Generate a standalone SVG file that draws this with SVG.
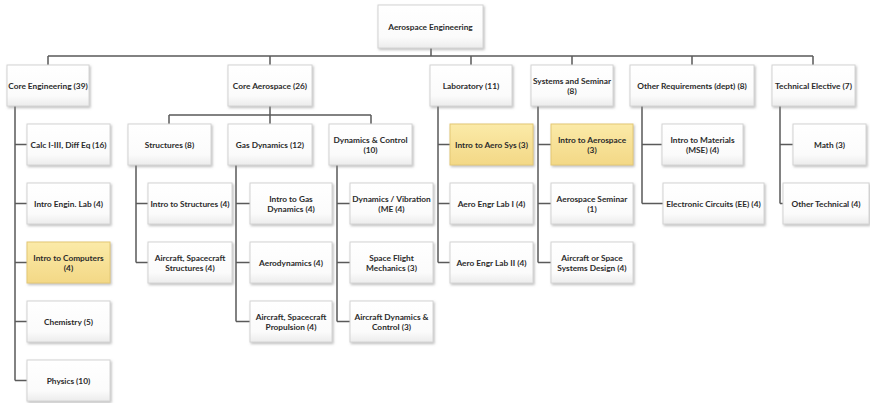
<svg xmlns="http://www.w3.org/2000/svg" width="870" height="403" viewBox="0 0 870 403">
  <defs>
    <linearGradient id="gWhite" x1="0" y1="0" x2="0" y2="1">
      <stop offset="0" stop-color="#ffffff"/>
      <stop offset="0.75" stop-color="#fbfbfb"/>
      <stop offset="1" stop-color="#ececec"/>
    </linearGradient>
    <linearGradient id="gGold" x1="0" y1="0" x2="0" y2="1">
      <stop offset="0" stop-color="#fbeaa8"/>
      <stop offset="1" stop-color="#f3d886"/>
    </linearGradient>
    <filter id="shadow" x="-10%" y="-10%" width="125%" height="130%">
      <feDropShadow dx="1.2" dy="1.5" stdDeviation="0.9" flood-color="#8a8a8a" flood-opacity="0.55"/>
    </filter>
    <style>
      .box { fill: url(#gWhite); stroke: #d4d4d4; stroke-width: 1; filter: url(#shadow); }
      .hl { fill: url(#gGold); stroke: #e3c874; stroke-width: 1; filter: url(#shadow); }
      .t { font-family: Lato, "Liberation Sans", sans-serif; font-size: 8.3px; font-weight: 700; fill: #2b2b2b; text-anchor: middle; }
      .wire { fill: none; stroke: #5a5a5a; stroke-width: 1.5; }
    </style>
  </defs>

  <rect width="870" height="403" fill="#ffffff"/>

  <!-- connectors -->
  <g id="connectors" class="wire">
    <path d="M431 48 V56 M48 56 H813 M48 56 V65 M270 56 V65 M471 56 V65 M572 56 V65 M692 56 V65 M813 56 V65"/>
    <path d="M270 106 V124 M169 115 H371 M169 115 V124 M371 115 V124"/>
    <path d="M15 106 V380.5 M15 144.5 H27 M15 203.5 H27 M15 262.5 H27 M15 321.5 H27 M15 380.5 H27"/>
    <path d="M136 165 V262.5 M136 203.5 H148 M136 262.5 H148"/>
    <path d="M236 165 V321.5 M236 203.5 H250 M236 262.5 H250 M236 321.5 H250"/>
    <path d="M337 165 V321.5 M337 203.5 H350 M337 262.5 H350 M337 321.5 H350"/>
    <path d="M438 106 V262.5 M438 144.5 H450 M438 203.5 H450 M438 262.5 H450"/>
    <path d="M538 106 V262.5 M538 144.5 H551 M538 203.5 H551 M538 262.5 H551"/>
    <path d="M642 106 V203.5 M642 144.5 H662 M642 203.5 H663"/>
    <path d="M780 106 V203.5 M780 144.5 H793 M780 203.5 H783"/>
  </g>

  <!-- root -->
  <g id="aerospace-engineering">
    <rect class="box" x="378" y="5" width="105" height="43"/>
    <text class="t" x="430.5" y="29.5">Aerospace Engineering</text>
  </g>

  <!-- first level -->
  <g id="core-engineering">
    <rect class="box" x="7" y="65" width="82" height="41"/>
    <text class="t" x="48" y="88.5">Core Engineering (39)</text>
  </g>
  <g id="core-aerospace">
    <rect class="box" x="228" y="65" width="84" height="41"/>
    <text class="t" x="270" y="88.5">Core Aerospace (26)</text>
  </g>
  <g id="laboratory">
    <rect class="box" x="430" y="65" width="82" height="41"/>
    <text class="t" x="471" y="88.5">Laboratory (11)</text>
  </g>
  <g id="systems-seminar">
    <rect class="box" x="531" y="65" width="82" height="41"/>
    <text class="t" x="572" y="83.5">Systems and Seminar</text>
    <text class="t" x="572" y="93.5">(8)</text>
  </g>
  <g id="other-requirements">
    <rect class="box" x="630" y="65" width="124" height="41"/>
    <text class="t" x="692" y="88.5">Other Requirements (dept) (8)</text>
  </g>
  <g id="technical-elective">
    <rect class="box" x="772" y="65" width="83" height="41"/>
    <text class="t" x="813.5" y="88.5">Technical Elective (7)</text>
  </g>

  <!-- core engineering courses -->
  <g id="calc">
    <rect class="box" x="27" y="124" width="83" height="41"/>
    <text class="t" x="68.5" y="147.5">Calc I-III, Diff Eq (16)</text>
  </g>
  <g id="intro-engin-lab">
    <rect class="box" x="27" y="183" width="83" height="41"/>
    <text class="t" x="68.5" y="206.5">Intro Engin. Lab (4)</text>
  </g>
  <g id="intro-computers">
    <rect class="hl" x="27" y="242" width="83" height="41"/>
    <text class="t" x="68.5" y="260.5">Intro to Computers</text>
    <text class="t" x="68.5" y="270.5">(4)</text>
  </g>
  <g id="chemistry">
    <rect class="box" x="27" y="301" width="83" height="41"/>
    <text class="t" x="68.5" y="324.5">Chemistry (5)</text>
  </g>
  <g id="physics">
    <rect class="box" x="27" y="360" width="83" height="41"/>
    <text class="t" x="68.5" y="383.5">Physics (10)</text>
  </g>

  <!-- core aerospace areas -->
  <g id="structures">
    <rect class="box" x="128" y="124" width="83" height="41"/>
    <text class="t" x="169.5" y="147.5">Structures (8)</text>
  </g>
  <g id="gas-dynamics">
    <rect class="box" x="228" y="124" width="84" height="41"/>
    <text class="t" x="270" y="147.5">Gas Dynamics (12)</text>
  </g>
  <g id="dynamics-control">
    <rect class="box" x="329" y="124" width="83" height="41"/>
    <text class="t" x="370.5" y="142.5">Dynamics &amp; Control</text>
    <text class="t" x="370.5" y="152.5">(10)</text>
  </g>

  <!-- structures courses -->
  <g id="intro-structures">
    <rect class="box" x="148" y="183" width="84" height="41"/>
    <text class="t" x="190" y="206.5">Intro to Structures (4)</text>
  </g>
  <g id="aircraft-structures">
    <rect class="box" x="148" y="242" width="84" height="41"/>
    <text class="t" x="190" y="260.5">Aircraft, Spacecraft</text>
    <text class="t" x="190" y="270.5">Structures (4)</text>
  </g>

  <!-- gas dynamics courses -->
  <g id="intro-gas-dynamics">
    <rect class="box" x="250" y="183" width="82" height="41"/>
    <text class="t" x="291" y="201.5">Intro to Gas</text>
    <text class="t" x="291" y="211.5">Dynamics (4)</text>
  </g>
  <g id="aerodynamics">
    <rect class="box" x="250" y="242" width="82" height="41"/>
    <text class="t" x="291" y="265.5">Aerodynamics (4)</text>
  </g>
  <g id="propulsion">
    <rect class="box" x="250" y="301" width="82" height="41"/>
    <text class="t" x="291" y="319.5">Aircraft, Spacecraft</text>
    <text class="t" x="291" y="329.5">Propulsion (4)</text>
  </g>

  <!-- dynamics & control courses -->
  <g id="dynamics-vibration">
    <rect class="box" x="350" y="183" width="83" height="41"/>
    <text class="t" x="391.5" y="201.5">Dynamics / Vibration</text>
    <text class="t" x="391.5" y="211.5">(ME (4)</text>
  </g>
  <g id="space-flight">
    <rect class="box" x="350" y="242" width="83" height="41"/>
    <text class="t" x="391.5" y="260.5">Space Flight</text>
    <text class="t" x="391.5" y="270.5">Mechanics (3)</text>
  </g>
  <g id="aircraft-dynamics">
    <rect class="box" x="350" y="301" width="83" height="41"/>
    <text class="t" x="391.5" y="319.5">Aircraft Dynamics &amp;</text>
    <text class="t" x="391.5" y="329.5">Control (3)</text>
  </g>

  <!-- laboratory courses -->
  <g id="intro-aero-sys">
    <rect class="hl" x="450" y="124" width="83" height="41"/>
    <text class="t" x="491.5" y="147.5">Intro to Aero Sys (3)</text>
  </g>
  <g id="aero-lab-1">
    <rect class="box" x="450" y="183" width="83" height="41"/>
    <text class="t" x="491.5" y="206.5">Aero Engr Lab I (4)</text>
  </g>
  <g id="aero-lab-2">
    <rect class="box" x="450" y="242" width="83" height="41"/>
    <text class="t" x="491.5" y="265.5">Aero Engr Lab II (4)</text>
  </g>

  <!-- systems and seminar courses -->
  <g id="intro-aerospace">
    <rect class="hl" x="551" y="124" width="82" height="41"/>
    <text class="t" x="592" y="142.5">Intro to Aerospace</text>
    <text class="t" x="592" y="152.5">(3)</text>
  </g>
  <g id="aerospace-seminar">
    <rect class="box" x="551" y="183" width="82" height="41"/>
    <text class="t" x="592" y="201.5">Aerospace Seminar</text>
    <text class="t" x="592" y="211.5">(1)</text>
  </g>
  <g id="systems-design">
    <rect class="box" x="551" y="242" width="82" height="41"/>
    <text class="t" x="592" y="260.5">Aircraft or Space</text>
    <text class="t" x="592" y="270.5">Systems Design (4)</text>
  </g>

  <!-- other requirements courses -->
  <g id="intro-materials">
    <rect class="box" x="662" y="124" width="81" height="41"/>
    <text class="t" x="702.5" y="142.5">Intro to Materials</text>
    <text class="t" x="702.5" y="152.5">(MSE) (4)</text>
  </g>
  <g id="electronic-circuits">
    <rect class="box" x="663" y="183" width="101" height="41"/>
    <text class="t" x="713.5" y="206.5">Electronic Circuits (EE) (4)</text>
  </g>

  <!-- technical elective courses -->
  <g id="math">
    <rect class="box" x="793" y="124" width="73" height="41"/>
    <text class="t" x="829.5" y="147.5">Math (3)</text>
  </g>
  <g id="other-technical">
    <rect class="box" x="783" y="183" width="86" height="41"/>
    <text class="t" x="826" y="206.5">Other Technical (4)</text>
  </g>
</svg>
